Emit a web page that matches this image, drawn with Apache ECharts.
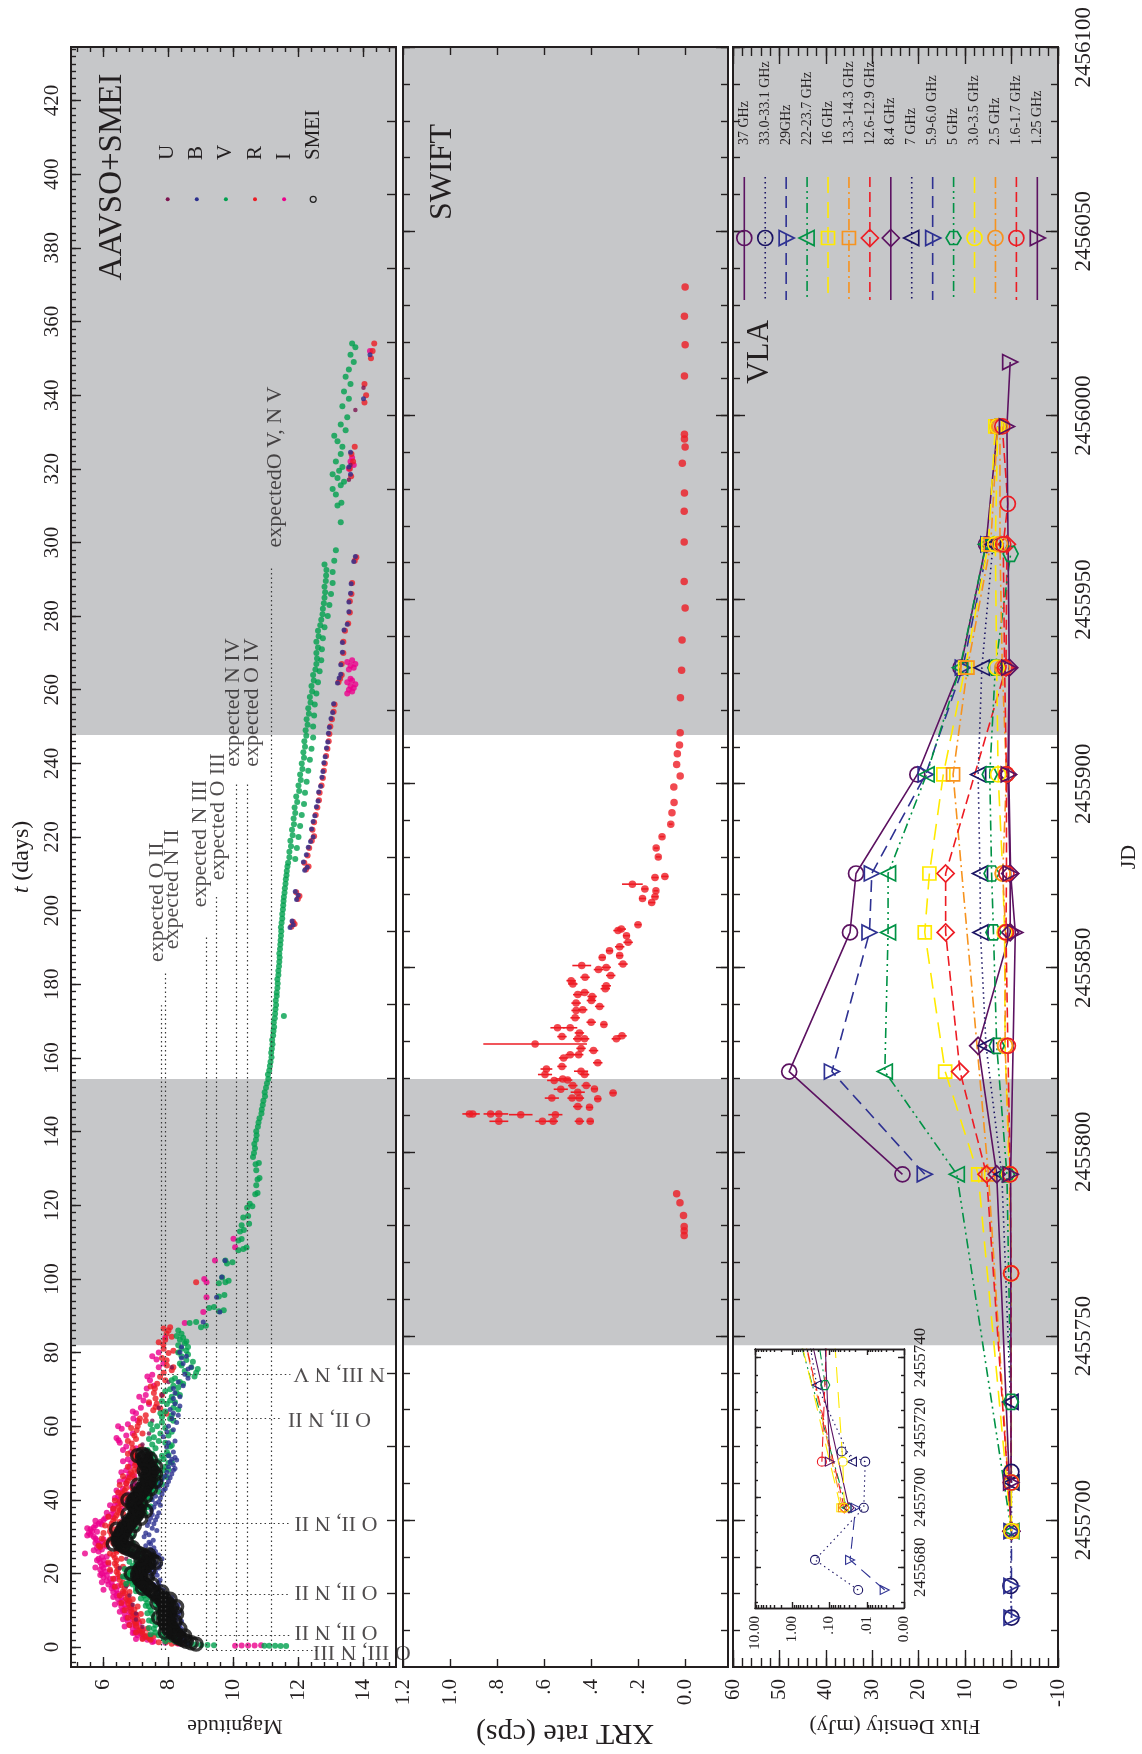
<!DOCTYPE html>
<html><head><meta charset="utf-8">
<script src="https://cdn.jsdelivr.net/npm/echarts@6/dist/echarts.min.js"></script>
<style>html,body{margin:0;padding:0;background:#fff}#c{width:1142px;height:1754px}</style>
</head><body><div id="c"></div>
<script>
// ---------- constants (axis domains) ----------
const T0 = 2455665.5;            // JD of t = 0
const T_MIN = -5.4, T_MAX = 434.55;
const JD_MIN = T_MIN + T0, JD_MAX = T_MAX + T0;
const IN_MIN = 2455668.34, IN_MAX = 2455742.43; // inset JD range

// ---------- tick labels ----------
const tLabels = [0,20,40,60,80,100,120,140,160,180,200,220,240,260,280,300,320,340,360,380,400,420];
const magLabels = [6,8,10,12,14];
const xrtLabels = [1.2,1.0,0.8,0.6,0.4,0.2,0.0];
const fluxLabels = [60,50,40,30,20,10,0,-10];
const jdLabels = [2455700,2455750,2455800,2455850,2455900,2455950,2456000,2456050,2456100];
const insetJdLabels = [2455680,2455700,2455720,2455740];
const insetFluxLabels = [10,1,0.1,0.01,0.001];

// ---------- shaded intervals (t, days) ----------
const shadeT = [[82.0,154.3],[247.7,434.55]];

// ---------- AAVSO + SMEI photometry: [t (days), magnitude] ----------
const magU = [[1.2,8.2],[3.0,7.9],[5.5,7.2],[7.5,7.0],[9.1,7.0],[11.5,6.9],[14.0,6.8],[16.5,6.7],[19.0,6.6],[21.5,6.5],[24.0,6.7],[28.0,6.6],[31.3,6.4],[33.0,6.55],[35.0,6.6],[37.2,7.2],[39.5,6.8],[42.0,7.0],[44.5,7.0],[47.0,7.2],[49.5,7.1],[52.0,7.3],[55.0,7.2],[58.0,7.4],[61.5,7.5],[65.0,7.7],[68.5,7.8],[72.0,8.0],[76.0,8.1],[80.0,8.3],[317,13.55],[321,13.6],[336,13.75],[342,14.0]];

const magB = [[1.0,8.6],[1.5,8.5],[2.0,8.4],[2.8,8.35],[3.5,8.3],[4.6,8.25],[5.5,8.3],[6.5,8.2],[7.5,8.25],[8.2,8.15],[9.0,8.2],[10.0,8.05],[11.0,8.1],[12.0,8.0],[13.0,7.95],[14.0,7.85],[15.0,7.7],[16.0,7.6],[17.0,7.55],[18.2,7.74],[19.0,7.5],[20.0,7.45],[21.0,7.5],[22.0,7.55],[23.0,7.6],[23.6,7.43],[24.5,7.65],[25.5,7.5],[26.5,7.45],[27.5,7.3],[29.0,7.53],[30.0,7.25],[31.0,7.3],[31.7,7.64],[33.0,7.35],[34.0,7.4],[35.0,7.45],[36.0,7.5],[37.2,7.48],[38.0,7.55],[39.0,7.6],[40.0,7.5],[41.0,7.6],[42.6,7.84],[43.5,7.7],[44.5,7.75],[45.5,7.8],[46.5,7.9],[47.5,7.95],[48.0,8.15],[49.0,8.0],[50.3,8.05],[51.0,8.1],[52.0,8.0],[54.4,7.94],[55.5,8.0],[57.1,7.84],[58.5,7.95],[60.0,8.0],[62.1,8.1],[63.5,8.15],[64.5,8.05],[66.1,8.2],[67.5,8.15],[69.0,8.2],[70.2,8.15],[72.0,8.3],[74.1,8.5],[75.5,8.6],[77.0,8.45],[78.5,8.4],[80.1,8.35],[81.5,8.4],[88.3,9.07],[91.0,9.58],[95.0,9.48],[100.5,9.64],[105.0,9.74],
[2.4,8.5],[3.8,8.45],[5.0,8.4],[6.0,8.35],[7.0,8.4],[8.6,8.3],[9.5,8.35],[10.5,8.25],[11.5,8.3],[12.5,8.15],[13.5,8.1],[14.5,7.95],[15.5,7.85],[16.5,7.75],[17.5,7.7],[19.5,7.65],[20.5,7.6],[21.5,7.7],[22.5,7.75],[24.0,7.8],[25.0,7.7],[26.0,7.6],[27.0,7.55],[28.0,7.45],[28.5,7.4],[30.5,7.4],[32.3,7.5],[33.5,7.55],[34.5,7.6],[35.5,7.65],[36.5,7.7],[38.5,7.75],[39.5,7.7],[40.5,7.75],[41.5,7.8],[43.0,7.9],[44.0,7.95],[45.0,8.0],[46.0,8.05],[47.0,8.1],[48.5,8.2],[49.5,8.15],[50.8,8.25],[51.5,8.2],[53.0,8.15],[56.0,8.2],[59.0,8.15],[61.0,8.25],[63.0,8.3],[65.5,8.35],[68.0,8.35],[71.0,8.45],[73.0,8.6],[76.0,8.7],[79.0,8.55],
[195.4,11.74],[196.2,11.84],[197.2,11.8],[203.0,11.94],[204.2,11.99],[205.2,11.9],[211.0,12.19],[211.8,12.27],[213.2,12.15],[215.2,12.24],[217.2,12.3],[218.8,12.37],[220.0,12.45],[222.2,12.4],[224.2,12.45],[225.8,12.5],[228.2,12.55],[229.8,12.6],[232.2,12.62],[233.8,12.68],[236.2,12.72],[237.8,12.75],[240.2,12.78],[241.8,12.82],[244.2,12.86],[245.8,12.9],[248.2,12.92],[249.8,12.95],[252.2,13.0],[253.8,13.05],[256.2,13.08],[261.8,13.2],[263.2,13.25],[264.2,13.3],[266.8,13.3],[270.2,13.35],[272.8,13.35],[276.2,13.4],[277.8,13.5],[281.2,13.55],[283.8,13.55],[286.2,13.6],[288.8,13.62],[294.8,13.7],[296.2,13.75],[318.5,13.6],[320.5,13.55],[324.5,13.6],[339,14.0],[351,14.2]];

const magV = [[0.30,11.62],[0.32,11.45],[0.34,11.28],[0.36,11.1],[0.38,10.95],[0.50,9.4],[0.55,9.2],[0.60,9.0],[0.70,8.8],[1.0,8.6],[1.3,8.35],[1.6,8.2],[2.0,8.05],[2.4,7.85],[2.8,7.95],[3.2,7.7],[3.6,7.85],[4.0,7.6],[4.5,7.8],[5.0,7.55],[5.5,7.85],[6.0,7.6],[6.5,7.8],[7.0,7.5],[7.5,7.75],[8.0,7.55],[8.5,7.8],[9.0,7.5],[9.5,7.7],[10.0,7.45],[10.5,7.65],[11.0,7.4],[11.5,7.6],[12.0,7.35],[12.5,7.55],[13.0,7.3],[13.5,7.45],[14.0,7.25],[14.5,7.35],[15.0,7.15],[15.5,7.2],[16.0,7.0],[16.5,7.05],[17.0,6.9],[17.5,6.95],[18.0,6.8],[18.5,6.85],[19.0,6.7],[19.5,6.8],[20.0,6.75],[20.5,6.85],[21.0,6.8],[21.5,6.95],[22.0,6.9],[22.5,7.05],[23.0,7.0],[23.5,7.15],[24.0,7.1],[24.5,7.2],[25.0,7.05],[25.5,6.95],[26.0,6.9],[26.5,6.8],[27.0,6.75],[27.5,6.65],[28.0,6.7],[28.5,6.6],[29.0,6.65],[29.5,6.6],[30.0,6.7],[30.5,6.65],[31.0,6.75],[31.5,6.7],[32.0,6.8],[32.5,6.75],[33.0,6.85],[33.5,6.8],[34.0,6.9],[34.5,6.9],[35.0,7.0],[35.5,7.0],[36.0,7.1],[36.5,7.1],[37.0,7.2],[37.5,7.25],[38.0,7.35],[38.5,7.3],[39.0,7.25],[39.5,7.2],[40.0,7.3],[40.5,7.3],[41.0,7.4],[41.5,7.35],[42.0,7.5],[42.5,7.45],[43.0,7.55],[43.5,7.5],[44.0,7.65],[44.5,7.6],[45.0,7.7],[45.5,7.65],[46.0,7.8],[46.5,7.6],[47.0,7.75],[47.5,7.55],[48.0,7.85],[48.5,7.65],[49.0,7.9],[49.5,7.6],[50.0,8.0],[50.5,7.7],[51.0,7.85],[51.5,7.55],[52.0,7.8],[52.5,7.5],[53.0,7.95],[54.0,7.6],[54.5,8.05],[55.0,7.5],[55.5,7.9],[56.0,7.7],[57.0,7.55],[57.5,8.0],[58.0,7.75],[59.0,7.5],[59.5,7.9],[60.0,7.65],[61.0,7.8],[62.0,8.05],[62.5,7.8],[63.0,8.1],[64.0,7.9],[65.0,8.15],[66.0,7.95],[66.5,8.2],[67.0,8.05],[68.0,8.1],[69.0,8.25],[70.0,8.05],[70.5,8.3],[71.0,8.15],[72.0,8.35],[73.0,8.2],[74.0,8.6],[74.5,8.85],[75.0,8.5],[76.0,8.7],[77.0,8.35],[78.0,8.55],[79.0,8.4],[80.0,8.3],[80.5,8.55],[81.0,8.4],[82.0,8.3],[82.5,8.5],[83.5,8.35],[84.5,8.25],[85.1,8.4],[86.0,8.3],[86.9,9.0],[87.3,9.15],[88.0,8.65],[88.3,8.85],[91.2,9.55],[91.5,9.7],[92.1,9.25],[92.4,9.4],[95.2,9.55],[95.6,9.72],[98.8,9.55],[99.1,9.75],[99.5,9.85],[100.4,9.65],[104.2,9.8],[104.5,9.97],[105.0,9.75],[107.8,10.15],[108.1,10.3],[108.5,10.4],[110.4,10.15],[110.8,10.25],[112.9,10.2],[113.3,10.32],[114.6,10.25],[115.0,10.48],[116.7,10.3],[117.1,10.45],[119.3,10.42],[119.7,10.58],[120.4,10.5],[123.0,10.67],[123.3,10.74],[125.4,10.7],[127.0,10.74],[127.4,10.8],[129.5,10.7],[131.1,10.68],[131.5,10.78],[133.1,10.6],
[1.5,7.9],[2.5,8.2],[3.5,7.45],[4.2,8.1],[5.2,7.4],[6.2,8.05],[7.2,7.4],[8.2,8.0],[9.2,7.35],[10.2,7.95],[11.2,7.3],[12.2,7.9],[13.2,7.15],[14.2,7.65],[15.2,7.0],[16.2,7.3],[17.2,6.7],[18.2,7.1],[19.2,6.6],[20.2,7.05],[21.2,6.65],[22.2,7.2],[23.2,6.8],[24.2,7.35],[25.2,6.85],[26.2,7.1],[27.2,6.5],[28.2,6.9],[29.2,6.45],[30.2,6.9],[31.2,6.55],[32.2,7.0],[33.2,6.6],[34.2,7.05],[35.2,6.75],[36.2,7.3],[37.2,6.95],[38.2,7.45],[39.2,7.0],[40.2,7.45],[41.2,7.2],[42.2,7.7],[43.2,7.3],[44.2,7.8],[45.2,7.45],[46.2,7.95],[47.2,7.35],[48.2,8.0],[49.2,7.4],[50.2,8.1],[51.2,7.45],[52.2,8.0],[53.5,7.35],[54.8,8.1],[56.5,7.4],[58.5,8.1],[60.5,7.45],[61.5,8.15],[63.5,7.75],[64.5,8.3],[66.8,7.8],[68.5,8.35],[69.5,7.9],[71.5,8.45],[72.5,8.1],[73.5,8.8],[75.5,8.9],[76.5,8.4],[77.5,8.75],[79.5,8.6],[81.5,8.6],[83.0,8.55],[84.0,8.45],
[134.2,10.63],[135.5,10.66],[136.6,10.64],[137.8,10.69],[139.0,10.71],[140.1,10.7],[141.3,10.75],[142.5,10.77],[143.6,10.8],[144.9,10.86],[146.0,10.87],[147.2,10.9],[148.4,10.92],[149.6,10.97],[150.7,10.96],[151.9,11.0],[153.1,11.03],[154.3,11.07],[155.5,11.06],[156.6,11.1],[157.8,11.12],[159.0,11.14],[160.2,11.17],[161.4,11.16],[162.5,11.18],[163.7,11.2],[164.9,11.19],[166.1,11.22],[167.3,11.23],[168.4,11.25],[169.6,11.24],[170.8,11.27],[171.4,11.55],[172.0,11.28],[173.2,11.29],[174.4,11.31],[175.6,11.3],[176.8,11.33],[177.8,11.33],[179.0,11.35],[180.2,11.36],[181.4,11.35],[182.5,11.38],[183.7,11.38],[184.9,11.4],[186.1,11.41],[187.3,11.42],[188.4,11.41],[189.6,11.43],[190.8,11.44],[192.0,11.45],[193.2,11.46],[194.4,11.47],[195.5,11.46],[196.7,11.48],[197.9,11.5],[199.1,11.5],[200.3,11.52],[201.5,11.53],[202.6,11.54],[203.7,11.55],[204.9,11.57],[206.1,11.58],[207.3,11.6],[208.5,11.61],[209.6,11.63],[210.8,11.64],[212.0,11.66],
[213,11.68],[214,11.9],[216,11.72],[217,11.95],[219,11.75],[220,12.0],[222,11.8],[223,12.05],[225,11.85],[226,12.1],[228,11.88],[229,12.17],[231,11.93],[232,12.2],[234,12.0],[235,12.25],[237,12.05],[238,12.3],[240,12.1],[241,12.35],[243,12.15],[244,12.4],[246,12.18],[247,12.45],[249,12.22],[250,12.45],[252,12.25],[253,12.48],[255,12.3],[256,12.5],[258,12.35],[259,12.55],[261,12.4],[262,12.6],[264,12.45],[265,12.65],[267,12.55],[268,12.7],[270,12.55],[271,12.72],[273,12.55],[274,12.75],[276,12.6],[277,12.8],[279,12.7],[280,12.9],[282,12.75],[283,12.95],[285,12.8],[286,13.0],[288,12.8],[289,13.05],[291,12.85],[292,13.05],[294,12.8],[295,13.1],[297.9,13.15],
[214.5,11.72],[217.5,11.77],[220.5,11.82],[223.5,11.86],[226.5,11.9],[229.5,11.96],[232.5,12.02],[235.5,12.07],[238.5,12.12],[241.5,12.17],[244.5,12.2],[247.5,12.24],[250.5,12.28],[253.5,12.32],[256.5,12.37],[259.5,12.42],[262.5,12.47],[265.5,12.52],[268.5,12.57],[271.5,12.6],[274.5,12.62],[277.5,12.67],[280.5,12.74],[283.5,12.78],[286.5,12.82],[289.5,12.84],[292.5,12.86],
[305.5,13.3],[310.0,13.2],[310.8,13.32],[313.0,13.15],[314.5,13.05],[315.5,13.3],[316.5,13.4],[317.5,13.2],[318.5,13.05],[319.5,13.25],[320.5,13.35],[322.0,13.15],[324.0,13.3],[326.0,13.35],[327.5,13.2],[329.0,13.1],[330.5,13.45],[332.0,13.3],[334.0,13.5],[337.0,13.35],[339.0,13.55],[341.0,13.4],[343.0,13.6],[345.0,13.45],[347.0,13.55],[349.0,13.7],[351.0,13.6],[353.0,13.75],[354.0,13.65]];

const magR = [[0.9,8.1],[1.0,8.4],[1.1,8.25],[1.5,7.95],[2.0,7.45],[2.4,7.4],[2.8,7.3],[3.2,7.35],[3.6,7.2],[4.2,7.2],[4.6,7.1],[5.2,7.15],[5.8,7.0],[6.4,7.0],[7.0,6.95],[7.6,7.05],[8.2,6.9],[8.8,7.0],[9.1,6.92],[9.6,6.85],[10.2,6.95],[10.8,6.8],[11.4,6.85],[11.9,6.76],[12.5,6.8],[13.1,6.7],[13.7,6.75],[14.6,6.66],[15.2,6.6],[16.0,6.65],[16.8,6.55],[17.5,6.6],[18.2,6.5],[19.1,6.5],[19.8,6.45],[20.5,6.4],[21.2,6.45],[22.0,6.4],[22.7,6.35],[23.5,6.4],[24.3,6.35],[25.0,6.3],[25.8,6.4],[26.3,6.4],[27.2,5.9],[27.8,6.05],[28.5,6.1],[29.2,6.2],[29.9,6.35],[30.6,6.25],[31.4,6.2],[32.0,6.3],[32.7,6.2],[33.5,6.25],[34.3,6.3],[35.0,6.35],[35.8,6.4],[36.5,6.45],[37.2,6.5],[38.0,6.45],[38.8,6.55],[39.5,6.5],[40.3,6.6],[41.0,6.55],[41.7,6.6],[42.5,6.65],[43.2,6.7],[44.4,6.7],[45.2,6.75],[46.0,6.8],[46.8,6.9],[47.5,6.85],[48.2,6.95],[48.9,7.1],[49.4,6.97],[50.2,7.0],[51.0,6.95],[51.7,6.97],[52.1,6.92],[53.0,6.95],[54.0,6.9],[55.3,6.87],[56.5,7.0],[57.5,6.95],[58.9,7.02],[60.0,7.05],[61.0,7.1],[62.1,7.12],[63.4,7.94],[64.3,7.53],[65.2,7.6],[66.1,7.64],[67.5,7.6],[69.0,7.55],[70.2,7.58],[71.5,7.65],[73.4,7.74],[75.2,8.1],[76.5,7.95],[77.9,7.94],[79.9,8.0],[81.0,7.85],[82.2,7.84],[83.5,7.9],[85.1,7.94],[86.0,8.0],[86.9,8.05],[99.1,8.85],
[1.3,7.7],[2.2,7.2],[3.0,7.55],[4.0,7.0],[5.0,7.35],[6.0,6.8],[7.0,7.2],[8.0,6.75],[9.0,7.15],[10.0,6.65],[11.0,7.05],[12.0,6.55],[13.0,6.9],[14.0,6.5],[15.0,6.8],[16.4,6.35],[17.2,6.75],[18.6,6.3],[19.5,6.7],[21.0,6.2],[21.8,6.6],[23.0,6.15],[24.0,6.55],[25.4,6.2],[26.0,6.6],[27.5,5.85],[28.2,6.3],[29.5,5.95],[30.2,6.45],[31.0,6.0],[32.4,6.45],[33.0,6.05],[34.0,6.5],[35.4,6.15],[36.2,6.6],[37.6,6.3],[38.4,6.7],[39.8,6.35],[40.6,6.75],[42.0,6.45],[43.0,6.9],[44.0,6.5],[45.6,6.95],[46.4,6.6],[47.8,7.05],[49.0,6.75],[50.6,7.15],[52.5,6.75],[54.5,7.15],[56.0,6.75],[58.0,7.2],[59.5,6.85],[61.5,7.3],[63.0,7.3],[64.8,7.75],[66.5,7.4],[68.5,7.8],[70.8,7.45],[72.5,7.9],[74.5,7.85],[76.0,8.15],[78.5,7.8],[80.5,8.15],[82.8,7.7],[84.3,8.1],[86.5,7.85],
[195.6,11.78],[196.4,11.88],[197.0,11.83],[203.2,11.98],[204.0,12.03],[205.0,11.93],[211.2,12.23],[212.0,12.31],[213.0,12.18],[215.0,12.28],[217.0,12.33],[219.0,12.41],[220.2,12.48],[222.0,12.43],[224.0,12.48],[226.0,12.53],[228.0,12.58],[230.0,12.63],[232.0,12.65],[234.0,12.71],[236.0,12.75],[238.0,12.78],[240.0,12.81],[242.0,12.85],[244.0,12.89],[246.0,12.93],[248.0,12.95],[250.0,12.98],[252.0,13.03],[254.0,13.08],[256.0,13.11],[262.0,13.23],[263.0,13.28],[264.0,13.33],[267.0,13.33],[270.0,13.38],[273.0,13.38],[276.0,13.43],[278.0,13.53],[281.0,13.58],[284.0,13.58],[286.0,13.63],[289.0,13.65],[295.0,13.73],[296.0,13.78],[318,13.62],[320,13.58],[322,13.68],[324,13.63],[326,13.73],[338,14.03],[340,14.08],[343,14.03],[350,14.23],[352,14.28],[354,14.33]];

const magI = [[0.40,10.05],[0.42,10.25],[0.44,10.45],[0.46,10.65],[0.48,10.85],[0.9,8.3],[1.2,7.9],[1.6,7.55],[2.0,7.35],[2.4,7.2],[2.8,7.25],[3.2,7.05],[3.6,7.15],[4.0,6.95],[4.5,7.05],[5.0,6.9],[5.5,7.0],[6.0,6.8],[6.5,6.95],[7.0,6.75],[7.5,6.9],[8.0,6.7],[8.5,6.85],[9.0,6.65],[9.5,6.8],[10.0,6.6],[10.5,6.7],[11.0,6.55],[11.5,6.65],[12.0,6.5],[12.5,6.6],[13.0,6.45],[13.5,6.55],[14.0,6.4],[14.5,6.45],[15.0,6.3],[15.5,6.4],[16.0,6.25],[16.5,6.3],[17.0,6.15],[17.5,6.25],[18.0,6.1],[18.5,6.2],[19.0,6.0],[19.5,6.1],[20.0,5.95],[20.5,6.05],[21.0,5.9],[21.5,6.0],[22.0,5.95],[22.5,6.05],[23.0,5.9],[23.5,6.0],[24.0,5.85],[24.5,5.95],[25.4,5.43],[26.0,5.85],[26.5,5.95],[27.0,5.8],[27.5,5.9],[28.0,5.85],[28.5,5.95],[29.0,5.8],[29.5,5.75],[30.0,5.7],[30.5,5.6],[31.0,5.55],[31.5,5.65],[32.0,5.6],[32.5,5.7],[33.0,5.75],[33.5,5.85],[34.0,5.9],[34.5,6.0],[35.0,6.05],[35.5,6.15],[36.0,6.25],[37.0,6.3],[37.6,6.3],[38.5,6.35],[39.0,6.45],[40.0,6.5],[41.0,6.45],[42.0,6.55],[43.0,6.6],[43.5,6.87],[44.5,6.7],[45.5,6.65],[46.2,6.76],[47.0,6.8],[48.0,6.7],[48.9,6.8],[50.0,6.85],[51.0,6.75],[52.1,7.0],[53.0,6.85],[54.5,6.7],[55.5,6.5],[56.2,6.46],[57.5,6.7],[59.3,6.56],[60.5,6.75],[62.1,6.92],[63.5,7.0],[65.0,7.15],[67.0,7.23],[68.5,7.3],[70.2,7.33],[72.5,7.43],[74.0,7.5],[77.0,7.84],[78.1,7.63],[80.0,7.7],[84.0,7.9],[88.0,8.5],[91.0,9.07],[95.0,9.17],[99.1,9.17],[100.0,9.1],[105.0,9.43],[108.6,10.05],[110.9,10.0],
[1.4,7.5],[2.2,7.0],[3.0,7.45],[3.8,6.9],[4.7,7.2],[5.6,6.65],[6.6,7.1],[7.6,6.6],[8.6,7.0],[9.6,6.5],[10.6,6.85],[11.6,6.35],[12.6,6.75],[13.6,6.3],[14.6,6.6],[15.6,6.0],[16.6,6.45],[17.6,5.95],[18.6,6.35],[19.6,5.9],[20.6,6.2],[21.6,5.75],[22.6,6.15],[23.6,5.8],[24.6,6.1],[26.3,5.7],[27.3,6.1],[28.3,5.75],[29.3,6.0],[30.3,5.5],[31.3,5.8],[32.3,5.5],[33.3,5.95],[34.3,5.75],[35.3,6.3],[36.5,6.1],[37.5,6.55],[38.5,6.2],[39.5,6.6],[40.5,6.35],[41.5,6.75],[42.5,6.4],[44.0,6.95],[45.0,6.5],[46.5,6.95],[47.5,6.55],[49.5,7.0],[50.5,6.6],[51.5,7.05],[53.5,6.6],[54.0,7.0],[56.8,6.4],[58.0,6.9],[60.0,6.45],[61.5,7.05],[64.0,6.9],[66.0,7.4],[68.0,7.1],[71.0,7.55],[73.5,7.35],[76.0,7.7],[79.0,7.5],
[259,13.5],[259.5,13.65],[260,13.55],[260.5,13.7],[261,13.6],[261.5,13.75],[262,13.5],[262.5,13.65],[263,13.6],[265.5,13.55],[266,13.7],[266.5,13.6],[267,13.75],[267.5,13.5],[268,13.65],[320,13.55],[321,13.7],[322,13.6],[323,13.65],[352,14.2]];

const magSMEI = [[0.8,8.85],[1.2,8.7],[1.6,8.55],[2.0,8.45],[2.4,8.35],[2.8,8.3],[3.2,8.2],[3.6,8.25],[4.0,8.1],[4.4,8.15],[4.8,8.0],[5.2,8.1],[5.6,7.95],[6.0,8.05],[6.4,7.9],[6.8,8.0],[7.2,7.85],[7.6,8.0],[8.0,7.9],[8.4,8.05],[8.8,7.85],[9.2,8.0],[9.6,7.9],[10.0,8.05],[10.4,7.95],[10.8,8.1],[11.2,7.9],[11.6,8.0],[12.0,7.85],[12.4,7.95],[12.8,7.8],[13.2,7.85],[13.6,7.7],[14.0,7.75],[14.4,7.6],[14.8,7.6],[15.2,7.5],[15.6,7.45],[16.0,7.4],[16.4,7.35],[16.8,7.3],[17.2,7.25],[17.6,7.2],[18.0,7.15],[18.4,7.1],[18.8,7.15],[19.2,7.05],[19.6,7.1],[20.0,7.05],[20.4,7.15],[20.8,7.1],[21.2,7.2],[21.6,7.15],[22.0,7.3],[22.4,7.25],[22.8,7.4],[23.2,7.35],[23.6,7.5],[24.0,7.4],[24.4,7.3],[24.8,7.25],[25.2,7.15],[25.6,7.05],[26.0,6.95],[26.4,6.85],[26.8,6.75],[27.2,6.65],[27.6,6.6],[28.0,6.5],[28.4,6.55],[28.8,6.45],[29.2,6.5],[29.6,6.45],[30.0,6.55],[30.4,6.5],[30.8,6.6],[31.2,6.55],[31.6,6.65],[32.0,6.6],[32.4,6.7],[32.8,6.65],[33.2,6.75],[33.6,6.8],[34.0,6.85],[34.4,6.8],[34.8,6.9],[35.2,6.95],[35.6,7.0],[36.0,6.95],[36.4,7.05],[36.8,7.0],[37.2,7.1],[37.6,7.05],[38.0,7.0],[38.4,6.95],[38.8,6.9],[39.2,6.95],[39.6,6.9],[40.0,6.95],[40.4,7.0],[40.8,7.05],[41.2,7.1],[41.6,7.05],[42.0,7.15],[42.4,7.2],[42.8,7.15],[43.2,7.25],[43.6,7.3],[44.0,7.25],[44.4,7.35],[44.8,7.4],[45.2,7.35],[45.6,7.45],[46.0,7.4],[46.4,7.35],[46.8,7.3],[47.2,7.4],[47.6,7.45],[48.0,7.5],[48.4,7.4],[48.8,7.45],[49.2,7.35],[49.6,7.3],[50.0,7.35],[50.4,7.25],[50.8,7.3],[51.2,7.2],[51.6,7.25],[52.0,7.3],[52.4,7.2],
[3.0,8.5],[5.0,8.35],[7.0,8.2],[9.0,8.25],[11.0,8.25],[13.0,8.05],[15.0,7.8],[17.0,7.5],[19.0,7.35],[21.0,7.4],[23.0,7.6],[25.0,7.4],[27.0,6.9],[29.0,6.7],[31.0,6.8],[33.0,6.95],[35.0,7.15],[37.0,7.3],[39.0,7.15],[41.0,7.3],[43.0,7.45],[45.0,7.6],[47.0,7.6],[49.0,7.6],[51.0,7.45],
[4.0,7.9],[8.0,7.7],[12.0,7.65],[16.0,7.2],[20.0,6.85],[24.0,7.15],[28.0,6.3],[32.0,6.4],[36.0,6.75],[40.0,6.75],[44.0,7.05],[48.0,7.25],[52.0,7.05]];

// ---------- line identifications ----------
const ionLinesV = [[7.77,-0.8,174.3],[7.89,-0.8,183.7],[9.17,-0.8,193.1],[9.46,-0.8,203.7],[10.08,-0.8,234.3],[10.43,-0.8,234.3],[11.15,-0.8,293.2]]; // [mag, tFrom, tTo]
const ionLinesH = [[-0.8,9.2,12.6],[3.1,8.9,11.75],[14.4,8.3,11.75],[33.7,7.77,11.75],[62.1,8.05,11.5],[74.1,7.7,11.75]]; // [t, magFrom, magTo]
const ionTextsV = [[7.65,202.3,'expected O II'],[8.12,205.8,'expected N II'],[8.97,218.2,'expected N III'],[9.52,225.5,'expected O III'],[9.98,256.5,'expected N IV'],[10.59,256.5,'expected O IV'],[11.28,320.5,'expectedO V, N V']];
const ionTextsH = [[13.95,-1.2,'O III, N III'],[13.15,4.3,'O II, N II'],[13.15,15.0,'O II, N II'],[13.15,33.7,'O II, N II'],[12.95,62.1,'O II, N II'],[13.25,74.1,'N III, N V']];

// ---------- Swift XRT: [t (days), rate (cps), error] ----------
const xrt = [[111.8,0.006,0],[113.1,0.006,0],[114.2,0.006,0],[117.2,0.009,0],[120.7,0.024,0],[123.1,0.038,0],
[142.8,0.793,0.04],[142.8,0.608,0.03],[142.8,0.562,0.02],[142.8,0.451,0.02],[142.8,0.405,0.015],
[144.6,0.553,0.03],[144.6,0.70,0.05],[144.8,0.793,0.04],[144.8,0.828,0.03],[144.8,0.904,0.03],[144.8,0.918,0.03],
[146.6,0.408,0.015],[146.8,0.458,0.02],[148.9,0.373,0.015],[149.1,0.451,0.02],[149.1,0.482,0.02],[149.1,0.568,0.03],
[150.5,0.308,0.015],[150.7,0.458,0.03],[151.5,0.53,0.03],[151.6,0.387,0.015],[152.5,0.422,0.02],[152.5,0.479,0.02],
[153.9,0.558,0.03],[154.0,0.501,0.02],[154.3,0.522,0.03],[155.5,0.597,0.03],[155.5,0.429,0.02],[156.4,0.444,0.03],
[157.0,0.591,0.025],[157.7,0.525,0.02],[158.7,0.373,0.02],[160.0,0.518,0.02],[160.9,0.49,0.02],[160.9,0.454,0.02],
[162.0,0.391,0.02],[162.6,0.444,0.02],[163.8,0.639,0.22],[165.2,0.429,0.02],[165.2,0.458,0.02],[165.2,0.294,0.02],
[165.8,0.525,0.02],[166.0,0.27,0.02],[166.8,0.451,0.02],[168.2,0.544,0.03],[168.2,0.49,0.03],[169.1,0.347,0.015],
[169.7,0.401,0.02],[170.9,0.469,0.02],[172.9,0.465,0.02],[173.1,0.437,0.02],[174.0,0.365,0.02],[174.9,0.465,0.02],
[175.6,0.40,0.02],[176.7,0.397,0.02],[177.2,0.458,0.02],[177.8,0.429,0.02],[178.8,0.341,0.02],[179.6,0.337,0.02],
[180.1,0.479,0.02],[181.0,0.486,0.02],[181.9,0.427,0.02],[182.4,0.318,0.02],[184.0,0.37,0.02],[184.6,0.337,0.02],
[185.1,0.441,0.04],[185.5,0.266,0.02],[187.3,0.354,0.015],[187.8,0.28,0.015],[189.1,0.323,0.015],[190.2,0.28,0.02],
[191.4,0.244,0.02],[193.2,0.251,0.015],[194.6,0.287,0.02],[195.0,0.273,0.02],[196.2,0.202,0.015],[202.2,0.144,0.015],
[203.3,0.183,0.015],[203.8,0.13,0.015],[205.4,0.126,0.01],[205.9,0.173,0.015],[207.2,0.226,0.044],[209.0,0.13,0.015],
[209.3,0.088,0.015],[214.6,0.116,0.01],[217.0,0.125,0.01],[220.1,0.10,0.01],[223.5,0.063,0.008],[226.6,0.058,0],
[229.4,0.049,0],[233.6,0.05,0],[236.6,0.023,0],[239.7,0.038,0],[242.6,0.035,0],[245.0,0.026,0],[248.3,0.023,0],
[257.8,0.022,0],[265.3,0.017,0],[273.5,0.015,0],[282.2,0.002,0],[289.4,0.006,0],[300.1,0.006,0],[308.5,0.006,0],
[313.4,0.005,0],[321.5,0.014,0],[325.9,0.002,0],[328.1,0.005,0],[329.4,0.005,0],[345.2,0.005,0],[353.7,0.002,0],
[361.4,0.005,0],[369.4,0.002,0]];

// ---------- VLA: [JD, flux density (mJy)] ----------
const vla37 = [[2455793.9,23.5],[2455821.8,47.9],[2455859.6,34.8],[2455875.6,33.5],[2455902.5,20.3],[2455931.5,11.0],[2455965.0,5.5],[2455997.0,3.0]];
const vla33 = [[2455673.5,0.017],[2455682.1,0.245],[2455697.0,0.012],[2455710.2,0.011],[2455713.1,0.047]];
const vla29 = [[2455793.9,18.7],[2455821.8,38.7],[2455859.6,30.6],[2455875.6,30.1],[2455902.5,18.5],[2455931.5,10.5],[2455965.0,5.0]];
const vla22 = [[2455697.0,0.035],[2455793.9,11.8],[2455821.8,27.3],[2455859.6,26.6],[2455875.6,26.6],[2455902.5,18.3],[2455931.5,11.1],[2455965.0,5.5]];
const vla16 = [[2455697.0,0.05],[2455793.9,7.2],[2455821.8,14.3],[2455859.6,18.7],[2455875.6,17.7],[2455902.5,14.7],[2455931.5,10.0],[2455965.0,5.0],[2455997.0,3.5]];
const vla13 = [[2455697.0,0.045],[2455793.9,5.0],[2455902.5,12.6],[2455931.5,9.5],[2455965.0,4.5],[2455997.0,3.0]];
const vla12 = [[2455697.0,0.04],[2455793.9,5.4],[2455821.8,11.1],[2455859.6,14.2],[2455875.6,14.2],[2455931.5,1.2],[2455965.0,1.0]];
const vla84 = [[2455697.0,0.03],[2455793.9,3.2],[2455828.8,7.2],[2455859.6,0.3],[2455875.6,0.3],[2455902.5,0.8],[2455931.5,0.5]];
const vla7 = [[2455710.2,0.025],[2455732.1,0.22],[2455793.9,2.1],[2455828.8,5.5],[2455859.6,6.7],[2455875.6,6.8],[2455902.5,7.2],[2455931.5,6.4],[2455965.0,4.0]];
const vla59 = [[2455673.5,0.0033],[2455682.1,0.028],[2455697.0,0.02]];
const vla5 = [[2455732.1,0.13],[2455793.9,1.0],[2455828.8,3.2],[2455859.6,3.9],[2455875.6,4.3],[2455902.5,4.7],[2455931.5,3.5],[2455962.4,0.2]];
const vla3 = [[2455697.0,0.04],[2455710.2,0.044],[2455767.0,0.1],[2455793.9,0.5],[2455828.8,1.4],[2455859.6,1.5],[2455875.6,1.9],[2455902.5,2.9],[2455931.5,3.2],[2455965.0,3.5],[2455997.0,3.0]];
const vla25 = [[2455767.0,0.1],[2455793.9,0.3],[2455828.8,1.4],[2455859.6,1.3],[2455875.6,1.9],[2455902.5,1.1],[2455931.5,2.0],[2455965.0,2.5],[2455997.0,2.5]];
const vla16g = [[2455710.2,0.16],[2455767.0,0.1],[2455793.9,0.3],[2455828.8,0.8],[2455859.6,1.2],[2455875.6,1.1],[2455902.5,1.1],[2455931.5,1.5],[2455965.0,1.8],[2455976.0,0.8],[2455997.0,2.0]];
const vla125 = [[2455710.2,0.098],[2455793.9,0.2],[2455859.6,-0.8],[2455875.6,0.2],[2455902.5,0.6],[2455931.5,0.5],[2455997.0,1.0],[2456014.5,0.3]];

// ---------- styles ----------
const FONT = 'Liberation Serif';
const INK = '#231f20', GRAY = '#c6c7c9';
const C = {U:'#7d1450', B:'#2b2f8e', V:'#00a04e', R:'#ec1c24', I:'#ec008c', SMEI:'#111111'};
const PURPLE='#5c1261', NAVY='#1b1464', BLUE='#2e3192', GREEN='#009245', YELLOW='#ffea00', ORANGE='#f7931e', RED='#ed1c24';
const DOT=[1.5,3.5], DASHL=[12,7], DDOT=[10,4,2,4,2,4], LDASH=[16,9], DDASH=[11,4,2,4], DASH=[10,5];
const HEX = 'path://M-1,0L-0.5,-0.866L0.5,-0.866L1,0L0.5,0.866L-0.5,0.866Z';
const vlaDefs = [
 {name:'37 GHz', data:vla37, color:PURPLE, dash:'solid', sym:'circle', rot:0, size:15},
 {name:'33.0-33.1 GHz', data:vla33, color:NAVY, dash:DOT, sym:'circle', rot:0, size:15},
 {name:'29GHz', data:vla29, color:BLUE, dash:DASHL, sym:'triangle', rot:-90, size:15},
 {name:'22-23.7 GHz', data:vla22, color:GREEN, dash:DDOT, sym:'triangle', rot:90, size:15},
 {name:'16 GHz', data:vla16, color:YELLOW, dash:LDASH, sym:'rect', rot:0, size:13},
 {name:'13.3-14.3 GHz', data:vla13, color:ORANGE, dash:DDASH, sym:'rect', rot:0, size:13},
 {name:'12.6-12.9 GHz', data:vla12, color:RED, dash:DASH, sym:'diamond', rot:0, size:17},
 {name:'8.4 GHz', data:vla84, color:PURPLE, dash:'solid', sym:'diamond', rot:0, size:17},
 {name:'7 GHz', data:vla7, color:NAVY, dash:DOT, sym:'triangle', rot:90, size:15},
 {name:'5.9-6.0 GHz', data:vla59, color:BLUE, dash:DASHL, sym:'triangle', rot:-90, size:15},
 {name:'5 GHz', data:vla5, color:GREEN, dash:DDOT, sym:HEX, rot:0, size:15},
 {name:'3.0-3.5 GHz', data:vla3, color:YELLOW, dash:LDASH, sym:'circle', rot:0, size:15},
 {name:'2.5 GHz', data:vla25, color:ORANGE, dash:DDASH, sym:'circle', rot:0, size:15},
 {name:'1.6-1.7 GHz', data:vla16g, color:RED, dash:DASH, sym:'circle', rot:0, size:15},
 {name:'1.25 GHz', data:vla125, color:PURPLE, dash:'solid', sym:'triangle', rot:-90, size:15}
];

// ---------- helpers ----------
function steps(a, b, s) { const r = []; for (let i = 0; a + i * s <= b + 1e-9; i++) r.push(+(a + i * s).toFixed(6)); return r; }
function jdTicksT(step) { const r = []; for (let jd = Math.ceil(JD_MIN / step) * step; jd <= JD_MAX; jd += step) r.push(jd - T0); return r; }
const xAxes = [], yAxes = [];
function ax(grid, pos, min, max, ticks, len, more, lw) {
  return Object.assign({
    type:'value', gridIndex:grid, position:pos, min:min, max:max, z:10, silent:true,
    axisLine:{show:true, onZero:false, lineStyle:{color:INK, width:lw || 2}},
    axisTick:{show:true, inside:true, length:len, customValues:ticks, lineStyle:{color:INK, width:1.4}},
    axisLabel:{show:false}, splitLine:{show:false}, minorTick:{show:false}
  }, more || {});
}
function lab(values, size, margin, fmt) {
  return {show:true, customValues:values, rotate:90, margin:margin, fontSize:size, fontFamily:FONT, color:INK, formatter: fmt || (v => String(v))};
}
function addX(a) { xAxes.push(a); return xAxes.length - 1; }
function addY(a) { yAxes.push(a); return yAxes.length - 1; }
const fmtXRT = v => { const r = Math.round(v * 10); return r === 12 ? '1.2' : r === 10 ? '1.0' : r === 0 ? '0.0' : '.' + r; };
const fmtLog = v => ({1:'10.00', 0:'1.00', '-1':'.10', '-2':'.01', '-3':'0.00'})[Math.round(Math.log10(v))];
const logMinor = []; [0.001,0.01,0.1,1].forEach(d => { for (let k = 2; k <= 9; k++) logMinor.push(+(d * k).toPrecision(3)); });

const grids = [
  {left:71, top:47, width:325, height:1620},
  {left:403, top:47, width:325, height:1620},
  {left:733, top:47, width:325, height:1620},
  {left:755, top:1349, width:149, height:259}
];

// grid 0: magnitude vs t
const gx0 = addX(ax(0,'bottom',5,15,magLabels,10,{axisLabel:lab(magLabels,22,12)}));
addX(ax(0,'bottom',5,15,steps(5.2,14.8,0.4),5));
addX(ax(0,'top',5,15,magLabels,10));
addX(ax(0,'top',5,15,steps(5.2,14.8,0.4),5));
const gy0 = addY(ax(0,'left',T_MIN,T_MAX,tLabels,10,{axisLabel:lab(tLabels,21,8)}));
addY(ax(0,'left',T_MIN,T_MAX,steps(-4,434,2),5));
addY(ax(0,'right',T_MIN,T_MAX,jdTicksT(20),9));
// grid 1: XRT rate vs t
const gx1 = addX(ax(1,'bottom',-0.18,1.2,xrtLabels,8,{inverse:true, axisLabel:lab(xrtLabels,21,12,fmtXRT)}));
addX(ax(1,'top',-0.18,1.2,xrtLabels,8,{inverse:true}));
const gy1 = addY(ax(1,'left',T_MIN,T_MAX,jdTicksT(10),7));
addY(ax(1,'left',T_MIN,T_MAX,jdTicksT(50),12));
addY(ax(1,'right',T_MIN,T_MAX,jdTicksT(10),7));
addY(ax(1,'right',T_MIN,T_MAX,jdTicksT(50),12));
// grid 2: flux vs JD
const gx2 = addX(ax(2,'bottom',-10,60,fluxLabels,17,{inverse:true, axisLabel:lab(fluxLabels,21,12)}));
addX(ax(2,'bottom',-10,60,steps(-10,60,2),9,{inverse:true}));
addX(ax(2,'top',-10,60,fluxLabels,17,{inverse:true}));
addX(ax(2,'top',-10,60,steps(-10,60,2),9,{inverse:true}));
const gy2 = addY(ax(2,'right',JD_MIN,JD_MAX,jdLabels,12,{axisLabel:lab(jdLabels,23,14)}));
addY(ax(2,'right',JD_MIN,JD_MAX,steps(2455670,2456100,10),7));
addY(ax(2,'left',JD_MIN,JD_MAX,jdLabels,12));
addY(ax(2,'left',JD_MIN,JD_MAX,steps(2455670,2456100,10),7));
// grid 3: inset, log flux vs JD
const gx3 = addX(ax(3,'bottom',0.001,10,insetFluxLabels,6,{type:'log', logBase:10, inverse:true, axisLabel:lab(insetFluxLabels,15,8,fmtLog)},1.3));
addX(ax(3,'bottom',0.001,10,logMinor,3,{type:'log', logBase:10, inverse:true},1.3));
addX(ax(3,'top',0.001,10,insetFluxLabels,6,{type:'log', logBase:10, inverse:true},1.3));
addX(ax(3,'top',0.001,10,logMinor,3,{type:'log', logBase:10, inverse:true},1.3));
const gy3 = addY(ax(3,'right',IN_MIN,IN_MAX,insetJdLabels,6,{axisLabel:lab(insetJdLabels,17,8)},1.3));
addY(ax(3,'right',IN_MIN,IN_MAX,steps(2455670,2455740,5),3,null,1.3));
addY(ax(3,'left',IN_MIN,IN_MAX,insetJdLabels,6,null,1.3));
addY(ax(3,'left',IN_MIN,IN_MAX,steps(2455670,2455740,5),3,null,1.3));

// ---------- series ----------
const series = [];
function shade(xi, yi, x0, x1, off) {
  series.push({type:'line', xAxisIndex:xi, yAxisIndex:yi, data:[], silent:true, z:1,
    markArea:{silent:true, itemStyle:{color:GRAY}, data: shadeT.map(([a,b]) => [{xAxis:x0, yAxis:a + off}, {xAxis:x1, yAxis:b + off}])}});
}
shade(gx0, gy0, 5, 15, 0);
shade(gx1, gy1, -0.18, 1.2, 0);
shade(gx2, gy2, -10, 60, T0);

series.push({type:'line', xAxisIndex:gx0, yAxisIndex:gy0, data:[], silent:true, z:2,
  markLine:{silent:true, symbol:['none','none'], label:{show:false}, lineStyle:{type:[1.5,3], color:'#3a3a3a', width:1.2},
    data: ionLinesV.map(([m,a,b]) => [{coord:[m,a]},{coord:[m,b]}]).concat(ionLinesH.map(([t,a,b]) => [{coord:[a,t]},{coord:[b,t]}]))}});

function band(name, data, color, size) {
  series.push({type:'scatter', name:name, xAxisIndex:gx0, yAxisIndex:gy0, data:data.map(([t,m]) => [m,t]),
    symbol:'circle', symbolSize:size, itemStyle:{color:color}, silent:true, z:3});
}
band('I', magI, C.I, 6);
band('R', magR, C.R, 6);
band('U', magU, C.U, 4.5);
band('V', magV, C.V, 6);
band('B', magB, C.B, 5);
series.push({type:'scatter', name:'SMEI', xAxisIndex:gx0, yAxisIndex:gy0, data:magSMEI.map(([t,m]) => [m,t]),
  symbol:'circle', symbolSize:12, itemStyle:{color:'rgba(0,0,0,0)', borderColor:C.SMEI, borderWidth:3.4}, silent:true, z:4});

function texts(data, rot) {
  series.push({type:'scatter', xAxisIndex:gx0, yAxisIndex:gy0, symbolSize:0, silent:true, z:6,
    itemStyle:{color:'rgba(0,0,0,0)'},
    data: data.map(([m,t,s]) => ({value:[m,t], name:s})),
    label:{show:true, position:'inside', formatter:'{b}', rotate:rot, fontSize:22, fontFamily:FONT, color:INK}});
}
texts(ionTextsV, 90);
texts(ionTextsH, 180);

// XRT
series.push({type:'custom', xAxisIndex:gx1, yAxisIndex:gy1, silent:true, z:3,
  data: xrt.map(([t,v,e]) => [v,t,e]), encode:{x:0, y:1},
  renderItem: (params, api) => {
    const v = api.value(0), t = api.value(1), e = api.value(2);
    if (!(e > 0)) return {type:'group', children:[]};
    const a = api.coord([v - e, t]), b = api.coord([v + e, t]);
    return {type:'line', shape:{x1:a[0], y1:a[1], x2:b[0], y2:b[1]}, style:{stroke:RED, lineWidth:1.6}};
  }});
series.push({type:'scatter', xAxisIndex:gx1, yAxisIndex:gy1, data: xrt.map(([t,v]) => [v,t]),
  symbol:'circle', symbolSize:7.5, itemStyle:{color:RED}, silent:true, z:4});

// VLA main + inset
vlaDefs.forEach(s => {
  series.push({type:'line', name:s.name, xAxisIndex:gx2, yAxisIndex:gy2, data:s.data.map(([jd,f]) => [f,jd]),
    symbol:s.sym, symbolSize:s.size, symbolRotate:s.rot, showAllSymbol:true, silent:true, z:3,
    lineStyle:{color:s.color, width:1.6, type:s.dash},
    itemStyle:{color:'rgba(0,0,0,0)', borderColor:s.color, borderWidth:1.7}});
  series.push({type:'line', name:s.name + ' inset', xAxisIndex:gx3, yAxisIndex:gy3,
    data:s.data.filter(d => d[1] > 0).map(([jd,f]) => [f,jd]),
    symbol:s.sym, symbolSize:s.size * 0.6, symbolRotate:s.rot, showAllSymbol:true, silent:true, z:3, clip:true,
    lineStyle:{color:s.color, width:1.1, type:s.dash},
    itemStyle:{color:'rgba(0,0,0,0)', borderColor:s.color, borderWidth:1.1}});
});

// ---------- graphic: titles & legends ----------
const R90 = Math.PI / 2;
function txt(x, y, text, size, rot, align, extra) {
  return Object.assign({type:'text', x:x, y:y, rotation:rot, silent:true, z:20,
    style:{text:text, fill:INK, font:size + 'px "' + FONT + '"', align:align || 'center', verticalAlign:'middle',
      textAlign:align || 'center', textVerticalAlign:'middle'}}, extra || {});
}
const g = [];
g.push({type:'text', x:22, y:857, rotation:R90, silent:true, z:20,
  style:{text:'{i|t} (days)', fill:INK, font:'24px "' + FONT + '"', align:'center', verticalAlign:'middle', textAlign:'center', textVerticalAlign:'middle',
    rich:{i:{fontStyle:'italic', fontSize:24, fontFamily:FONT, fill:INK}}}});
g.push(txt(1129, 857, 'JD', 22, R90));
g.push(txt(235, 1726, 'Magnitude', 22, Math.PI));
g.push(txt(565, 1733, 'XRT rate (cps)', 30, Math.PI));
g.push(txt(895, 1726, 'Flux Density (mJy)', 22, Math.PI));
g.push(txt(112, 177, 'AAVSO+SMEI', 33, R90));
g.push(txt(443, 172, 'SWIFT', 32, R90));
g.push(txt(760, 352, 'VLA', 31, R90));

// AAVSO legend
const optLeg = [['U',C.U],['B',C.B],['V',C.V],['R',C.R],['I',C.I],['SMEI',null]];
optLeg.forEach(([name, col], i) => {
  const x = 167.7 + i * 29.1;
  g.push(txt(x, 160, name, 21, R90, 'left'));
  if (col) g.push({type:'circle', shape:{cx:x, cy:199.3, r:2}, style:{fill:col}, silent:true, z:20});
  else g.push({type:'circle', shape:{cx:x, cy:199.3, r:3}, style:{fill:'none', stroke:'#222', lineWidth:1.2}, silent:true, z:20});
});

// VLA legend
function legSym(sym, rot, x, y, col) {
  const st = {fill:'none', stroke:col, lineWidth:1.7};
  const base = {silent:true, z:21, style:st};
  if (sym === 'circle') return Object.assign({type:'circle', shape:{cx:x, cy:y, r:7.5}}, base);
  if (sym === 'rect') return Object.assign({type:'rect', shape:{x:x-6.5, y:y-6.5, width:13, height:13}}, base);
  if (sym === 'diamond') return Object.assign({type:'polygon', shape:{points:[[x,y-8.5],[x+8.5,y],[x,y+8.5],[x-8.5,y]]}}, base);
  if (sym === 'triangle') {
    const pts = rot < 0 ? [[x-7,y-7.5],[x+8,y],[x-7,y+7.5]] : [[x+7,y-7.5],[x-8,y],[x+7,y+7.5]];
    return Object.assign({type:'polygon', shape:{points:pts}}, base);
  }
  return Object.assign({type:'polygon', shape:{points:[[x-7.5,y],[x-3.75,y-6.5],[x+3.75,y-6.5],[x+7.5,y],[x+3.75,y+6.5],[x-3.75,y+6.5]]}}, base);
}
vlaDefs.forEach((s, i) => {
  const x = 744.3 + i * 20.93;
  g.push({type:'line', shape:{x1:x, y1:177, x2:x, y2:300}, silent:true, z:20,
    style:{stroke:s.color, lineWidth:1.6, lineDash: s.dash === 'solid' ? null : s.dash}});
  g.push(legSym(s.sym, s.rot, x, 238, s.color));
  g.push(txt(x, 145, s.name, 14, R90, 'left'));
});

const chart = echarts.init(document.getElementById('c'), null, {renderer:'canvas', width:1142, height:1754});
chart.setOption({
  backgroundColor:'#ffffff', animation:false,
  textStyle:{fontFamily:FONT},
  grid: grids.map(gr => Object.assign({show:false, containLabel:false}, gr)),
  xAxis: xAxes, yAxis: yAxes, series: series, graphic: g
});
</script></body></html>
